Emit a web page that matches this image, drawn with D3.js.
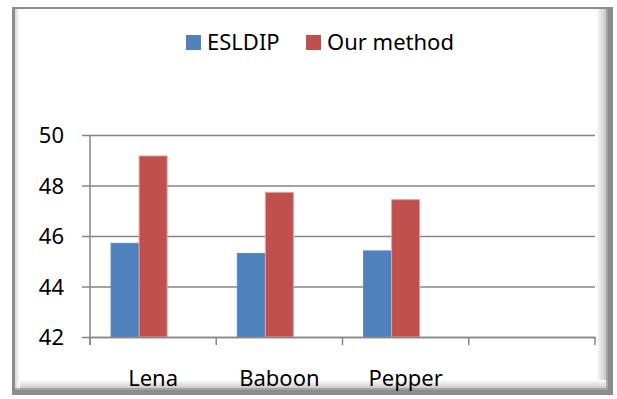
<!DOCTYPE html>
<html>
<head>
<meta charset="utf-8">
<script src="https://cdn.jsdelivr.net/npm/d3@7"></script>
<style>
  html, body { margin: 0; padding: 0; background: #ffffff; }
  svg { display: block; }
  text { font-family: "Noto Sans", "Open Sans", sans-serif; fill: #000; }
</style>
</head>
<body>
<svg id="chart" width="617" height="399"></svg>
<script>
// Category slots along the x axis (the last slot is left empty)
const categories = ["Lena", "Baboon", "Pepper", ""];
// Series names as shown in the legend
const seriesNames = ["ESLDIP", "Our method"];
// PSNR-style values per image
const esldip = [45.71, 45.31, 45.41];
const ourMethod = [49.17, 47.73, 47.44];
// Y axis tick values
const yTicks = [42, 44, 46, 48, 50];

const colors = ["#4F81BD", "#C0504D"];
const strokes = ["#5B8BC4", "#E7A3A1"];
const fontFamily = "'Noto Sans', 'Open Sans', sans-serif";

const svg = d3.select("#chart");

// ---- frame with bevelled edge and soft shadow ----
const defs = svg.append("defs");
const gR = defs.append("linearGradient").attr("id", "edgeR").attr("x1", 0).attr("x2", 1).attr("y1", 0).attr("y2", 0);
gR.append("stop").attr("offset", 0).attr("stop-color", "#ffffff");
gR.append("stop").attr("offset", 1).attr("stop-color", "#bdbdbd");
const gB = defs.append("linearGradient").attr("id", "edgeB").attr("x1", 0).attr("x2", 0).attr("y1", 0).attr("y2", 1);
gB.append("stop").attr("offset", 0).attr("stop-color", "#ffffff");
gB.append("stop").attr("offset", 1).attr("stop-color", "#bdbdbd");
const gL = defs.append("linearGradient").attr("id", "edgeL").attr("x1", 0).attr("x2", 1).attr("y1", 0).attr("y2", 0);
gL.append("stop").attr("offset", 0).attr("stop-color", "#d8d8d8");
gL.append("stop").attr("offset", 1).attr("stop-color", "#ffffff");

// outer dark border
svg.append("rect").attr("x", 12).attr("y", 7).attr("width", 601).attr("height", 388)
  .attr("fill", "#8c8c8c");
svg.append("rect").attr("x", 15).attr("y", 9).attr("width", 593).attr("height", 381)
  .attr("fill", "#ffffff");
// bevel shading inside the right, bottom and left edges
svg.append("rect").attr("x", 596).attr("y", 9).attr("width", 12).attr("height", 381)
  .attr("fill", "url(#edgeR)");
svg.append("rect").attr("x", 15).attr("y", 380).attr("width", 593).attr("height", 10)
  .attr("fill", "url(#edgeB)");
svg.append("rect").attr("x", 15).attr("y", 9).attr("width", 5).attr("height", 381)
  .attr("fill", "url(#edgeL)");
svg.append("line").attr("x1", 15).attr("x2", 608).attr("y1", 389).attr("y2", 389)
  .attr("stroke", "#9a9a9a").attr("stroke-width", 1.5);
svg.append("line").attr("x1", 607).attr("x2", 607).attr("y1", 9).attr("y2", 390)
  .attr("stroke", "#9a9a9a").attr("stroke-width", 1.5);

// ---- plot area ----
const plot = { left: 90, right: 595, top: 135, bottom: 337 };

const x = d3.scaleBand().domain(categories.map((c, i) => i))
  .range([plot.left, plot.right]).padding(0);
const y = d3.scaleLinear().domain([42, 50]).range([plot.bottom, plot.top]);

// three bar slots per category (third slot unused), gap width 150%
const bw = x.bandwidth();
const inner = d3.scaleBand().domain([0, 1, 2])
  .range([bw / 6, bw - bw / 6]).padding(0);

const gridColor = "#868686";

// horizontal gridlines with short ticks to the left of the axis
const yAxis = d3.axisLeft(y).tickValues(yTicks).tickSize(-(plot.right - plot.left + 8))
  .tickFormat(d3.format("d"));
const yG = svg.append("g").attr("transform", `translate(${plot.left - 8},0)`).call(yAxis);
yG.select(".domain").remove();
yG.selectAll(".tick line").attr("stroke", gridColor).attr("stroke-width", 1.5)
  .attr("x1", 0).attr("x2", plot.right - plot.left + 8);
yG.selectAll(".tick text").attr("x", -18).attr("dy", "0.36em")
  .style("font-size", "22px").style("font-family", fontFamily).attr("fill", "#000");

// bars
const series = [esldip, ourMethod];
series.forEach((vals, s) => {
  svg.append("g").selectAll("rect").data(vals).join("rect")
    .attr("x", (d, i) => x(i) + inner(s))
    .attr("y", d => y(d))
    .attr("width", inner.bandwidth())
    .attr("height", d => y(42) - y(d))
    .attr("fill", colors[s])
    .attr("stroke", strokes[s]).attr("stroke-width", 1);
});

// vertical value axis line
svg.append("line").attr("x1", plot.left).attr("x2", plot.left)
  .attr("y1", plot.top).attr("y2", plot.bottom + 8)
  .attr("stroke", gridColor).attr("stroke-width", 1.5);

// category axis with tick marks between categories
const xAxis = d3.axisBottom(x).tickSize(0).tickFormat(i => categories[i]);
const xG = svg.append("g").attr("transform", `translate(0,${plot.bottom})`).call(xAxis);
xG.select(".domain").attr("stroke", gridColor).attr("stroke-width", 1.5);
xG.selectAll(".tick text").attr("y", 49).attr("dy", "0")
  .style("font-size", "22px").style("font-family", fontFamily).attr("fill", "#000");
const edges = categories.map((c, i) => x(i)).concat([x(categories.length - 1) + bw]);
svg.append("g").selectAll("line").data(edges).join("line")
  .attr("x1", d => d).attr("x2", d => d)
  .attr("y1", plot.bottom).attr("y2", plot.bottom + 8)
  .attr("stroke", gridColor).attr("stroke-width", 1.5);

// legend
const legendItems = [
  { name: seriesNames[0], color: colors[0], x: 186 },
  { name: seriesNames[1], color: colors[1], x: 306 }
];
const lg = svg.append("g");
legendItems.forEach(it => {
  lg.append("rect").attr("x", it.x).attr("y", 35).attr("width", 15).attr("height", 15)
    .attr("fill", it.color);
  lg.append("text").attr("x", it.x + 21).attr("y", 50)
    .style("font-size", "22px").style("font-family", fontFamily).text(it.name);
});
</script>
</body>
</html>
